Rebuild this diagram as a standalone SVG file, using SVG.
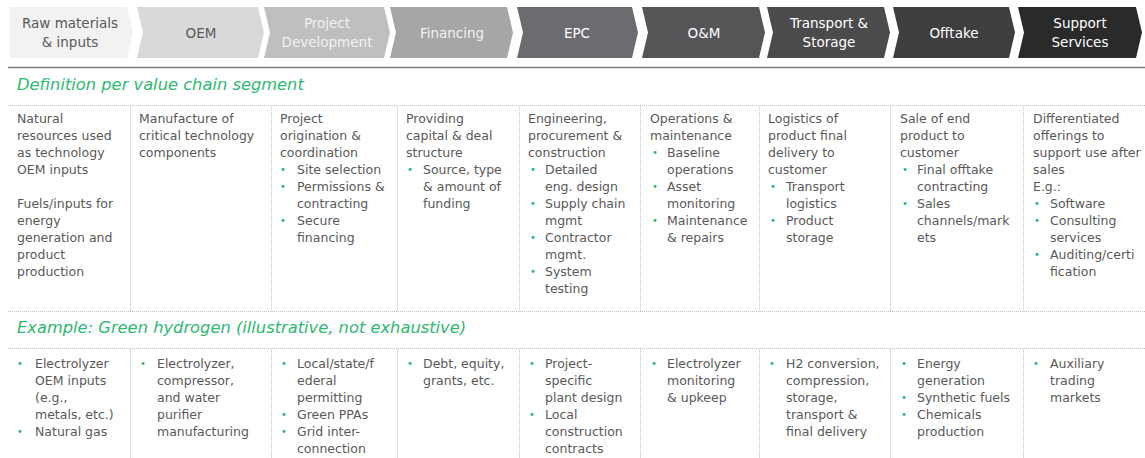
<svg xmlns="http://www.w3.org/2000/svg" width="1145" height="458" viewBox="0 0 1145 458">
<style>
.hd{font-family:"DejaVu Sans",sans-serif;font-size:13.5px;text-anchor:middle}
.dk{fill:#595959}
.lt{fill:#ffffff}
.t{font-family:"DejaVu Sans",sans-serif;font-size:12.5px;fill:#595959}
.b{font-family:"DejaVu Sans",sans-serif;font-size:10px;fill:#2eb872}
.sec{font-family:"DejaVu Sans",sans-serif;font-style:italic;font-size:16.3px;fill:#2eb872}
.dot{stroke:#c4c4c4;stroke-width:1;stroke-dasharray:1 1;fill:none}
</style>
<rect width="1145" height="458" fill="#ffffff"/>
<g id="chevrons">
<g id="seg-raw"><path d="M10,7 H127 L133,32.5 L127,58 H10 Z" fill="#f2f2f2"/><text class="hd dk" x="70" y="28">Raw materials</text><text class="hd dk" x="70" y="47">&amp; inputs</text></g>
<g id="seg-oem"><path d="M137,7 H258 L264,32.5 L258,58 H137 L143,32.5 Z" fill="#d9d9d9"/><text class="hd dk" x="201" y="38">OEM</text></g>
<g id="seg-pd"><path d="M264,7 H384 L390,32.5 L384,58 H264 L270,32.5 Z" fill="#bfbfbf"/><text class="hd" fill="#f2f2f2" x="327" y="28">Project</text><text class="hd" fill="#f2f2f2" x="327" y="47">Development</text></g>
<g id="seg-fin"><path d="M390,7 H507 L513,32.5 L507,58 H390 L396,32.5 Z" fill="#a6a6a6"/><text class="hd" fill="#f2f2f2" x="452" y="38">Financing</text></g>
<g id="seg-epc"><path d="M517,7 H632 L638,32.5 L632,58 H517 L523,32.5 Z" fill="#6b6c6f"/><text class="hd lt" x="577" y="38">EPC</text></g>
<g id="seg-om"><path d="M642,7 H759 L765,32.5 L759,58 H642 L648,32.5 Z" fill="#555557"/><text class="hd lt" x="704" y="38">O&amp;M</text></g>
<g id="seg-ts"><path d="M767,7 H884 L890,32.5 L884,58 H767 L773,32.5 Z" fill="#4b4b4d"/><text class="hd lt" x="829" y="28">Transport &amp;</text><text class="hd lt" x="829" y="47">Storage</text></g>
<g id="seg-off"><path d="M893,7 H1009 L1015,32.5 L1009,58 H893 L899,32.5 Z" fill="#3e3e3f"/><text class="hd lt" x="954" y="38">Offtake</text></g>
<g id="seg-sup"><path d="M1018,7 H1136 L1142,32.5 L1136,58 H1018 L1024,32.5 Z" fill="#2a2a2a"/><text class="hd lt" x="1080" y="28">Support</text><text class="hd lt" x="1080" y="47">Services</text></g>
</g>
<g id="grid">
<line x1="8" y1="67.5" x2="1145" y2="67.5" stroke="#7f7f7f" stroke-width="1.6"/>
<line class="dot" x1="8" y1="105.5" x2="1145" y2="105.5"/>
<line class="dot" x1="8" y1="311.5" x2="1145" y2="311.5"/>
<line class="dot" x1="8" y1="348.5" x2="1145" y2="348.5"/>
<path class="dot" d="M130.5,106V311 M271.5,106V311 M397.5,106V311 M519.5,106V311 M640.5,106V311 M759.5,106V311 M890.5,106V311 M1023.5,106V311"/>
<path class="dot" d="M130.5,349V458 M271.5,349V458 M397.5,349V458 M519.5,349V458 M640.5,349V458 M759.5,349V458 M890.5,349V458 M1023.5,349V458"/>
</g>
<text id="title-def" class="sec" x="17" y="90">Definition per value chain segment</text>
<text id="title-ex" class="sec" x="17" y="333">Example: Green hydrogen (illustrative, not exhaustive)</text>
<g id="def-raw" class="t">
<text x="17" y="122.5">Natural</text><text x="17" y="139.5">resources used</text><text x="17" y="156.5">as technology</text><text x="17" y="173.5">OEM inputs</text>
<text x="17" y="208">Fuels/inputs for</text><text x="17" y="225">energy</text><text x="17" y="242">generation and</text><text x="17" y="259">product</text><text x="17" y="276">production</text>
</g>
<g id="def-oem" class="t">
<text x="139" y="122.5">Manufacture of</text><text x="139" y="139.5">critical technology</text><text x="139" y="156.5">components</text>
</g>
<g id="def-pd">
<g class="t"><text x="280" y="122.5">Project</text><text x="280" y="139.5">origination &amp;</text><text x="280" y="156.5">coordination</text>
<text x="297" y="173.5">Site selection</text><text x="297" y="190.5">Permissions &amp;</text><text x="297" y="207.5">contracting</text><text x="297" y="224.5">Secure</text><text x="297" y="241.5">financing</text></g>
<g class="b"><text x="280" y="172.5">•</text><text x="280" y="189.5">•</text><text x="280" y="223.5">•</text></g>
</g>
<g id="def-fin">
<g class="t"><text x="406" y="122.5">Providing</text><text x="406" y="139.5">capital &amp; deal</text><text x="406" y="156.5">structure</text>
<text x="423" y="173.5">Source, type</text><text x="423" y="190.5">&amp; amount of</text><text x="423" y="207.5">funding</text></g>
<g class="b"><text x="407" y="172.5">•</text></g>
</g>
<g id="def-epc">
<g class="t"><text x="528" y="122.5">Engineering,</text><text x="528" y="139.5">procurement &amp;</text><text x="528" y="156.5">construction</text>
<text x="545" y="173.5">Detailed</text><text x="545" y="190.5">eng. design</text><text x="545" y="207.5">Supply chain</text><text x="545" y="224.5">mgmt</text><text x="545" y="241.5">Contractor</text><text x="545" y="258.5">mgmt.</text><text x="545" y="275.5">System</text><text x="545" y="292.5">testing</text></g>
<g class="b"><text x="530" y="172.5">•</text><text x="530" y="206.5">•</text><text x="530" y="240.5">•</text><text x="530" y="274.5">•</text></g>
</g>
<g id="def-om">
<g class="t"><text x="650" y="122.5">Operations &amp;</text><text x="650" y="139.5">maintenance</text>
<text x="667" y="156.5">Baseline</text><text x="667" y="173.5">operations</text><text x="667" y="190.5">Asset</text><text x="667" y="207.5">monitoring</text><text x="667" y="224.5">Maintenance</text><text x="667" y="241.5">&amp; repairs</text></g>
<g class="b"><text x="652" y="155.5">•</text><text x="652" y="189.5">•</text><text x="652" y="223.5">•</text></g>
</g>
<g id="def-ts">
<g class="t"><text x="768" y="122.5">Logistics of</text><text x="768" y="139.5">product final</text><text x="768" y="156.5">delivery to</text><text x="768" y="173.5">customer</text>
<text x="786" y="190.5">Transport</text><text x="786" y="207.5">logistics</text><text x="786" y="224.5">Product</text><text x="786" y="241.5">storage</text></g>
<g class="b"><text x="770" y="189.5">•</text><text x="770" y="223.5">•</text></g>
</g>
<g id="def-off">
<g class="t"><text x="900" y="122.5">Sale of end</text><text x="900" y="139.5">product to</text><text x="900" y="156.5">customer</text>
<text x="917" y="173.5">Final offtake</text><text x="917" y="190.5">contracting</text><text x="917" y="207.5">Sales</text><text x="917" y="224.5">channels/mark</text><text x="917" y="241.5">ets</text></g>
<g class="b"><text x="902" y="172.5">•</text><text x="902" y="206.5">•</text></g>
</g>
<g id="def-sup">
<g class="t"><text x="1033" y="122.5">Differentiated</text><text x="1033" y="139.5">offerings to</text><text x="1033" y="156.5">support use after</text><text x="1033" y="173.5">sales</text><text x="1033" y="190.5">E.g.:</text>
<text x="1050" y="207.5">Software</text><text x="1050" y="224.5">Consulting</text><text x="1050" y="241.5">services</text><text x="1050" y="258.5">Auditing/certi</text><text x="1050" y="275.5">fication</text></g>
<g class="b"><text x="1034" y="206.5">•</text><text x="1034" y="223.5">•</text><text x="1034" y="257.5">•</text></g>
</g>
<g id="ex-raw">
<g class="t"><text x="35" y="367.5">Electrolyzer</text><text x="35" y="384.5">OEM inputs</text><text x="35" y="401.5">(e.g.,</text><text x="35" y="418.5">metals, etc.)</text><text x="35" y="435.5">Natural gas</text></g>
<g class="b"><text x="17" y="366.5">•</text><text x="17" y="434.5">•</text></g>
</g>
<g id="ex-oem">
<g class="t"><text x="157" y="367.5">Electrolyzer,</text><text x="157" y="384.5">compressor,</text><text x="157" y="401.5">and water</text><text x="157" y="418.5">purifier</text><text x="157" y="435.5">manufacturing</text></g>
<g class="b"><text x="140" y="366.5">•</text></g>
</g>
<g id="ex-pd">
<g class="t"><text x="297" y="367.5">Local/state/f</text><text x="297" y="384.5">ederal</text><text x="297" y="401.5">permitting</text><text x="297" y="418.5">Green PPAs</text><text x="297" y="435.5">Grid inter-</text><text x="297" y="452.5">connection</text></g>
<g class="b"><text x="281" y="366.5">•</text><text x="281" y="417.5">•</text><text x="281" y="434.5">•</text></g>
</g>
<g id="ex-fin">
<g class="t"><text x="423" y="367.5">Debt, equity,</text><text x="423" y="384.5">grants, etc.</text></g>
<g class="b"><text x="407" y="366.5">•</text></g>
</g>
<g id="ex-epc">
<g class="t"><text x="545" y="367.5">Project-</text><text x="545" y="384.5">specific</text><text x="545" y="401.5">plant design</text><text x="545" y="418.5">Local</text><text x="545" y="435.5">construction</text><text x="545" y="452.5">contracts</text></g>
<g class="b"><text x="529" y="366.5">•</text><text x="529" y="417.5">•</text></g>
</g>
<g id="ex-om">
<g class="t"><text x="667" y="367.5">Electrolyzer</text><text x="667" y="384.5">monitoring</text><text x="667" y="401.5">&amp; upkeep</text></g>
<g class="b"><text x="651" y="366.5">•</text></g>
</g>
<g id="ex-ts">
<g class="t"><text x="786" y="367.5">H2 conversion,</text><text x="786" y="384.5">compression,</text><text x="786" y="401.5">storage,</text><text x="786" y="418.5">transport &amp;</text><text x="786" y="435.5">final delivery</text></g>
<g class="b"><text x="769" y="366.5">•</text></g>
</g>
<g id="ex-off">
<g class="t"><text x="917" y="367.5">Energy</text><text x="917" y="384.5">generation</text><text x="917" y="401.5">Synthetic fuels</text><text x="917" y="418.5">Chemicals</text><text x="917" y="435.5">production</text></g>
<g class="b"><text x="901" y="366.5">•</text><text x="901" y="400.5">•</text><text x="901" y="417.5">•</text></g>
</g>
<g id="ex-sup">
<g class="t"><text x="1050" y="367.5">Auxiliary</text><text x="1050" y="384.5">trading</text><text x="1050" y="401.5">markets</text></g>
<g class="b"><text x="1033" y="366.5">•</text></g>
</g>
</svg>
